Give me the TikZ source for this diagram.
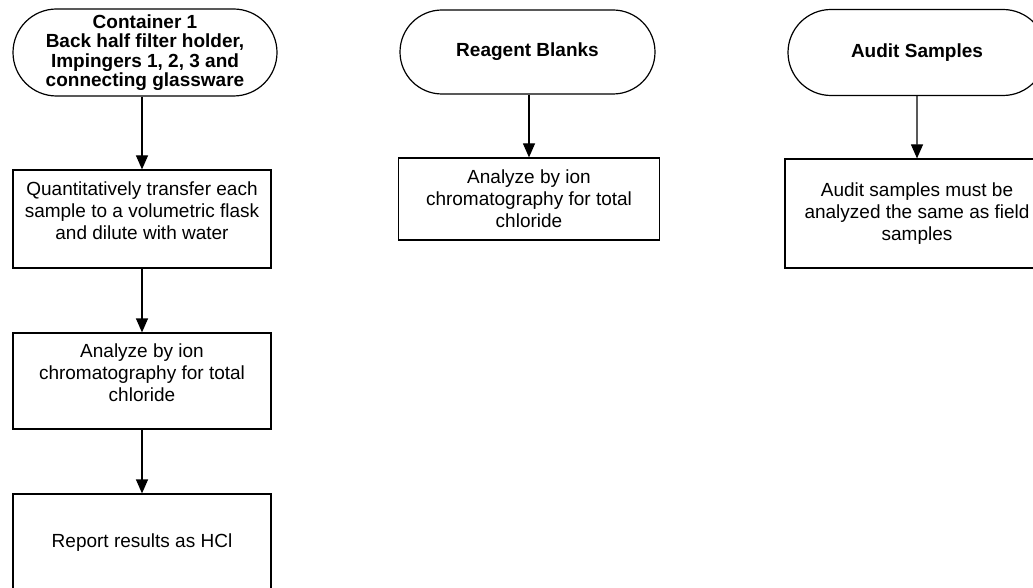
\documentclass[tikz,border=0pt]{standalone}
\usepackage{fontspec}
\setmainfont{Liberation Sans}
\usetikzlibrary{shapes.misc,arrows.meta}

\begin{document}
\begin{tikzpicture}[x=1pt,y=-1pt]
    \useasboundingbox (0,0) rectangle (1033,588);
    \clip (0,0) rectangle (1033,588);
    \begin{scope}[every node/.style={draw, line width=1.2pt, rounded rectangle, align=center, font=\fontsize{19}{19.5}\selectfont\bfseries, inner sep=2pt}]
                        \node [minimum width=268, minimum height=87] (cont) at (145,52.5) {Container 1\\Back half filter holder,\\Impingers 1, 2, 3 and\\connecting glassware};
                        \node [minimum width=259, minimum height=84] (blank) at (527.5,52) {Reagent Blanks};
                        \node [minimum width=262, minimum height=86] (audit) at (917,52.5) {Audit Samples};
                \end{scope}

                \begin{scope}[every node/.style={draw, line width=1.2pt, rectangle, align=center, font=\fontsize{19}{22}\selectfont, inner sep=2pt}]
                        \node [minimum width=258, minimum height=98, text depth=16pt] (transfer) at (142,219) {Quantitatively transfer each\\sample to a volumetric flask\\and dilute with water};
                        \node [minimum width=258, minimum height=96, text depth=16pt] (ion) at (142,381) {Analyze by ion\\chromatography for total\\chloride};
                        \node [minimum width=258, minimum height=98] (report) at (142,543) {Report results as HCl};
                        \node [minimum width=261, minimum height=82] (ionb) at (529,199) {Analyze by ion\\chromatography for total\\chloride};
                        \node [minimum width=264, minimum height=109] (same) at (917,213.5) {Audit samples must be\\analyzed the same as field\\samples};
                \end{scope}

                \begin{scope}[every path/.style={line width=1.2pt, ->, >={Triangle[width=12pt,length=14pt]}}]
                        \path (cont.south -| transfer.north) edge (transfer);
                        \path (transfer) edge (ion);
                        \path (ion) edge (report);
                        \path (blank.south -| ionb.north) edge (ionb);
                        \path (audit) edge (same);
               \end{scope}
\end{tikzpicture}
\end{document}
